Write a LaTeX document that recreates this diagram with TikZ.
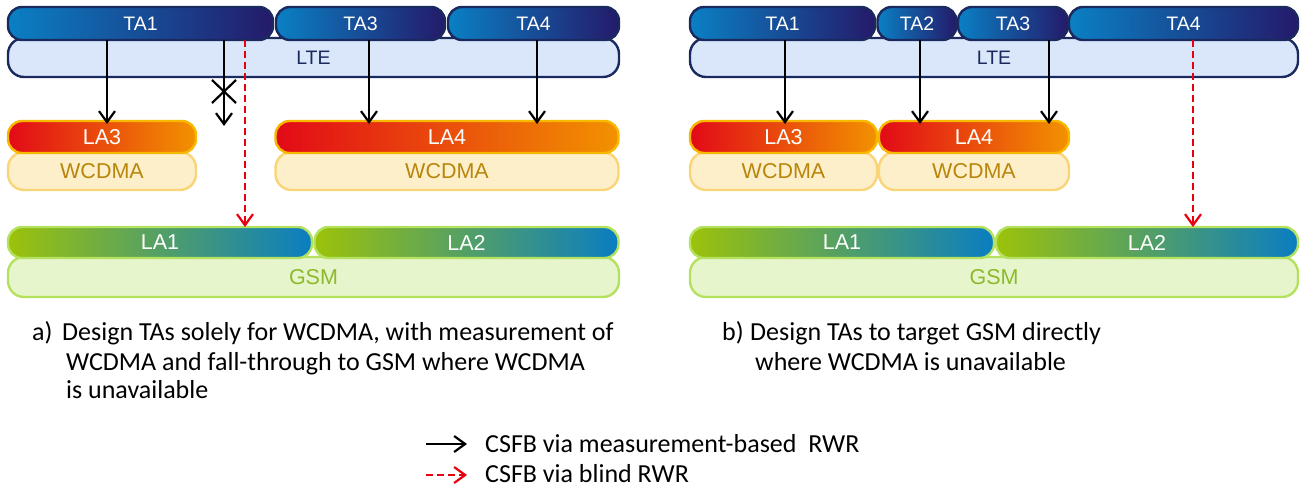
\documentclass[tikz,border=0pt]{standalone}
\usepackage{fontspec}
\setmainfont{Carlito}
\newfontfamily\arial{Liberation Sans}
\usetikzlibrary{arrows.meta}
\definecolor{tadark}{HTML}{241A6A}
\definecolor{talight}{HTML}{0A80C4}
\definecolor{navy}{HTML}{1B2A5E}
\definecolor{ltefill}{HTML}{DAE7FA}
\definecolor{lared}{HTML}{E20A17}
\definecolor{laorange}{HTML}{F29200}
\definecolor{laborder}{HTML}{F7B800}
\definecolor{wfill}{HTML}{FDEFCA}
\definecolor{wborder}{HTML}{F9D577}
\definecolor{wtext}{HTML}{B8860B}
\definecolor{lagreen}{HTML}{9CC20A}
\definecolor{lablue}{HTML}{0A7DC2}
\definecolor{gborder}{HTML}{B4E15E}
\definecolor{gfill}{HTML}{E6F5CB}
\definecolor{gtext}{HTML}{8CBA2B}
\definecolor{blindred}{HTML}{E8000F}
\tikzset{
  box/.style={rectangle, rounded corners=14pt, inner sep=0pt, outer sep=0pt, line width=2.4pt,
    font=\arial\fontsize{19.5}{19.5}\selectfont},
  lowbox/.style={box, font=\arial\fontsize{21.5}{21.5}\selectfont},
  tabox/.style={box, draw=navy, left color=talight, right color=tadark, text=white, minimum height=33pt},
  ltebox/.style={box, draw=navy, fill=ltefill, text=navy, minimum height=39pt, rounded corners=16pt},
  labox/.style={lowbox, draw=laborder, left color=lared, right color=laorange, text=white, minimum height=32pt},
  wbox/.style={lowbox, draw=wborder, fill=wfill, text=wtext, minimum height=38pt, rounded corners=16pt},
  lagbox/.style={lowbox, draw=gborder, left color=lagreen, right color=lablue, text=white, minimum height=31pt},
  gbox/.style={lowbox, draw=gborder, fill=gfill, text=gtext, minimum height=40pt, rounded corners=16pt},
  meas/.style={-{Straight Barb[length=11pt,width=16pt,line width=2.2pt]}, line width=2.2pt, black},
  blind/.style={-{Straight Barb[length=11pt,width=16pt,line width=2.2pt]}, line width=2.2pt, blindred, dash pattern=on 7pt off 4pt},
  captext/.style={anchor=base west, inner sep=0pt, font=\fontsize{26}{26}\selectfont},
}
\begin{document}
\begin{tikzpicture}[x=1pt,y=-1pt]
\useasboundingbox (0,0) rectangle (1300,487);
% ---------- panel a ----------
\node[ltebox, minimum width=611pt] (lteA) at (313.5,57.5) {LTE};
\node[tabox, minimum width=265pt] (taA1) at (140.5,23.5) {TA1};
\node[tabox, minimum width=169pt] (taA3) at (360.5,23.5) {TA3};
\node[tabox, minimum width=171pt] (taA4) at (533.5,23.5) {TA4};
\node[wbox, minimum width=188pt] (wA1) at (102,171) {WCDMA};
\node[labox, minimum width=188pt] (laA3) at (102,137) {LA3};
\node[wbox, minimum width=343pt] (wA2) at (447,171) {WCDMA};
\node[labox, minimum width=343pt] (laA4) at (447,137) {LA4};
\node[gbox, minimum width=611pt] (gA) at (313.5,277) {GSM};
\node[lagbox, minimum width=304pt] (laA1) at (160,242.5) {LA1};
\node[lagbox, minimum width=304pt] (laA2) at (466.5,242.5) {LA2};
\coordinate (xa1) at (107,0);
\coordinate (xa2) at (224,0);
\coordinate (xa3) at (245,0);
\coordinate (xa4) at (369,0);
\coordinate (xa5) at (537,0);
\coordinate (blockA) at (224,126);
\draw[meas, shorten >=-3pt] (taA1.south -| xa1) -- (laA3.north -| xa1);
\draw[meas] (taA1.south -| xa2) -- (blockA);
\draw[line width=2.2pt] (212,80) -- (236,103) (212,103) -- (236,80);
\draw[blind] (taA1.south -| xa3) -- (laA1.north -| xa3);
\draw[meas, shorten >=-3pt] (taA3.south -| xa4) -- (laA4.north -| xa4);
\draw[meas, shorten >=-3pt] (taA4.south -| xa5) -- (laA4.north -| xa5);
% ---------- panel b ----------
\node[ltebox, minimum width=608pt] (lteB) at (994,57.5) {LTE};
\node[tabox, minimum width=185pt] (taB1) at (782.5,23.5) {TA1};
\node[tabox, minimum width=79pt] (taB2) at (917,23.5) {TA2};
\node[tabox, minimum width=110pt] (taB3) at (1013,23.5) {TA3};
\node[tabox, minimum width=229pt] (taB4) at (1183.5,23.5) {TA4};
\node[wbox, minimum width=187pt] (wB1) at (783.5,171) {WCDMA};
\node[labox, minimum width=187pt] (laB3) at (783.5,137) {LA3};
\node[wbox, minimum width=190pt] (wB2) at (974,171) {WCDMA};
\node[labox, minimum width=190pt] (laB4) at (974,137) {LA4};
\node[gbox, minimum width=608pt] (gB) at (994,277) {GSM};
\node[lagbox, minimum width=304pt] (laB1) at (842,242.5) {LA1};
\node[lagbox, minimum width=302pt] (laB2) at (1147,242.5) {LA2};
\coordinate (xb1) at (785,0);
\coordinate (xb2) at (920,0);
\coordinate (xb3) at (1049,0);
\coordinate (xb4) at (1193,0);
\draw[meas, shorten >=-3pt] (taB1.south -| xb1) -- (laB3.north -| xb1);
\draw[meas, shorten >=-3pt] (taB2.south -| xb2) -- (laB4.north -| xb2);
\draw[meas, shorten >=-3pt] (taB3.south -| xb3) -- (laB4.north -| xb3);
\draw[blind] (taB4.south -| xb4) -- (laB2.north -| xb4);
% ---------- captions ----------
\node[captext] (ca0) at (32,340) {a)};
\node[captext] (ca1) at (62,340) {Design TAs solely for WCDMA, with measurement of};
\node[captext] (ca2) at (66,370) {WCDMA and fall-through to GSM where WCDMA};
\node[captext] (ca3) at (66,398) {is unavailable};
\node[captext] (cb0) at (722,340) {b)};
\node[captext] (cb1) at (750,340) {Design TAs to target GSM directly};
\node[captext] (cb2) at (755,370) {where WCDMA is unavailable};
% ---------- legend ----------
\coordinate (l1a) at (426,444);
\coordinate (l1b) at (467,444);
\coordinate (l2a) at (426,475);
\coordinate (l2b) at (467,475);
\draw[meas] (l1a) -- (l1b);
\draw[blind] (l2a) -- (l2b);
\node[captext] (lg1) at (485,452) {CSFB via measurement-based\ \ RWR};
\node[captext] (lg2) at (485,482) {CSFB via blind RWR};
\end{tikzpicture}
\end{document}
